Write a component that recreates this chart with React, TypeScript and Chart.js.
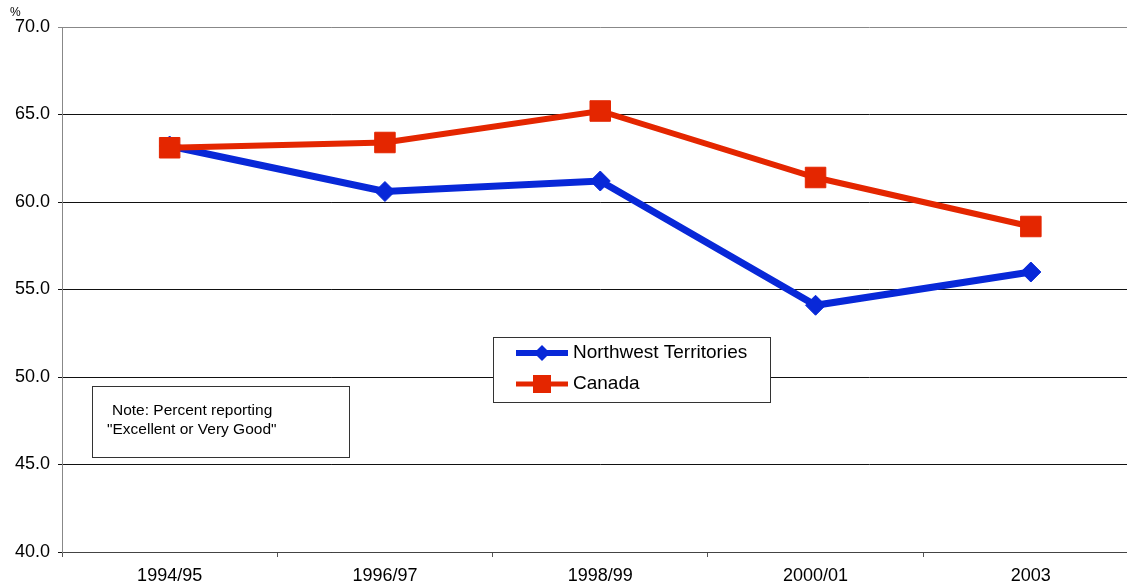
import React, { useEffect, useRef } from "react";
import { Chart, registerables } from "chart.js";

Chart.register(...registerables);

const categories = ["1994/95", "1996/97", "1998/99", "2000/01", "2003"];
const nwtValues = [63.2, 60.6, 61.2, 54.1, 56.0];
const canadaValues = [63.1, 63.4, 65.2, 61.4, 58.6];
const seriesNames = ["Northwest Territories", "Canada"];
const noteLines = ["Note: Percent reporting", "\"Excellent or Very Good\""];
const unitLabel = "%";

const BLUE = "#0828D8";
const RED = "#E42600";
const FONT = "'Liberation Sans', Arial, Helvetica, sans-serif";

const overlayPlugin = {
  id: "overlay",
  afterDraw(chart: any) {
    const ctx = chart.ctx as CanvasRenderingContext2D;
    ctx.save();
    // unit label
    ctx.fillStyle = "#000";
    ctx.font = `12px ${FONT}`;
    ctx.textBaseline = "middle";
    ctx.textAlign = "left";
    ctx.fillText(unitLabel, 10, 13);

    // legend box
    ctx.strokeStyle = "#333";
    ctx.lineWidth = 1;
    ctx.fillStyle = "#fff";
    ctx.fillRect(493.5, 337.5, 277, 65);
    ctx.strokeRect(493.5, 337.5, 277, 65);
    const items = [
      { name: seriesNames[0], color: BLUE, shape: "diamond", y: 353 },
      { name: seriesNames[1], color: RED, shape: "square", y: 384 },
    ];
    for (const it of items) {
      ctx.strokeStyle = it.color;
      ctx.lineWidth = it.shape === "diamond" ? 6 : 5;
      ctx.beginPath();
      ctx.moveTo(516, it.y);
      ctx.lineTo(568, it.y);
      ctx.stroke();
      ctx.fillStyle = it.color;
      ctx.beginPath();
      if (it.shape === "diamond") {
        ctx.moveTo(542, it.y - 8);
        ctx.lineTo(550, it.y);
        ctx.lineTo(542, it.y + 8);
        ctx.lineTo(534, it.y);
        ctx.closePath();
      } else {
        ctx.rect(533, it.y - 9, 18, 18);
      }
      ctx.fill();
      ctx.fillStyle = "#000";
      ctx.font = `19px ${FONT}`;
      ctx.textAlign = "left";
      ctx.textBaseline = "middle";
      ctx.fillText(it.name, 573, it.y);
    }

    // note box
    ctx.strokeStyle = "#333";
    ctx.lineWidth = 1;
    ctx.fillStyle = "#fff";
    ctx.fillRect(92.5, 386.5, 257, 71);
    ctx.strokeRect(92.5, 386.5, 257, 71);
    ctx.fillStyle = "#000";
    ctx.font = `15.5px ${FONT}`;
    ctx.textBaseline = "middle";
    ctx.fillText(noteLines[0], 112, 411);
    ctx.fillText(noteLines[1], 107, 430);
    ctx.restore();
  },
};

export default function App() {
  const ref = useRef<HTMLCanvasElement>(null);
  useEffect(() => {
    if (!ref.current) return;
    const chart = new Chart(ref.current, {
      type: "line",
      data: {
        labels: categories,
        datasets: [
          {
            label: seriesNames[1],
            data: canadaValues,
            borderColor: RED,
            backgroundColor: RED,
            borderWidth: 6,
            pointStyle: "rect",
            pointRadius: 14.5,
            pointBorderWidth: 1,
            pointBackgroundColor: RED,
            pointBorderColor: RED,
            order: 0,
          },
          {
            label: seriesNames[0],
            data: nwtValues,
            borderColor: BLUE,
            backgroundColor: BLUE,
            borderWidth: 7,
            pointStyle: "rectRot",
            pointRadius: 10,
            pointBorderWidth: 1,
            pointBackgroundColor: BLUE,
            pointBorderColor: BLUE,
            order: 1,
          },
        ],
      },
      options: {
        animation: false,
        responsive: false,
        layout: { padding: { top: 27, right: 0, left: 0, bottom: 0 } },
        plugins: {
          legend: { display: false },
          tooltip: { enabled: false },
        },
        scales: {
          x: {
            offset: true,
            grid: {
              display: true,
              drawOnChartArea: false,
              drawTicks: true,
              tickLength: 5,
              color: "#555",
              offset: true,
            },
            border: { display: true, color: "#444", width: 1 },
            ticks: {
              color: "#000",
              font: { family: FONT, size: 18 },
              padding: 8,
              maxRotation: 0,
            },
            afterFit: (s: any) => {
              s.height = 34;
            },
          },
          y: {
            min: 40,
            max: 70,
            ticks: {
              stepSize: 5,
              color: "#000",
              font: { family: FONT, size: 18 },
              padding: 8,
              callback: (v: any) => Number(v).toFixed(1),
            },
            grid: {
              drawTicks: true,
              tickLength: 4,
              color: (c: any) => (c.tick && c.tick.value === 70 ? "#888" : "#111"),
              lineWidth: 1,
            },
            border: { display: true, color: "#888", width: 1 },
            afterFit: (s: any) => {
              s.width = 62;
            },
          },
        },
      },
      plugins: [overlayPlugin],
    });
    return () => chart.destroy();
  }, []);
  return (
    <div
      style={{
        position: "absolute",
        left: 0,
        top: 0,
        width: 1127,
        height: 586,
        overflow: "hidden",
        background: "#fff",
      }}
    >
      <canvas ref={ref} width={1154} height={586} style={{ width: 1154, height: 586 }} />
    </div>
  );
}
